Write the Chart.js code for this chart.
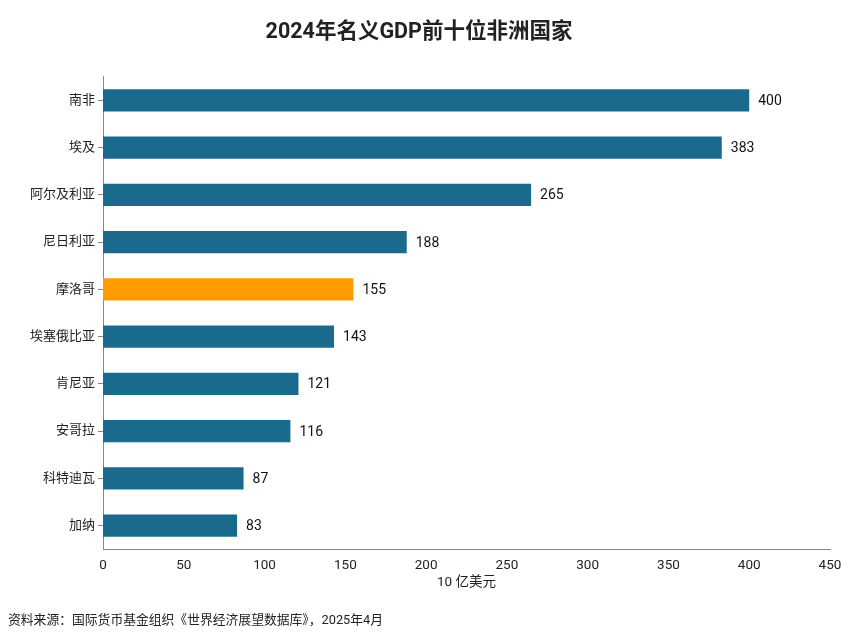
<!DOCTYPE html>
<html>
<head>
<meta charset="utf-8">
<script src="https://cdn.jsdelivr.net/npm/chart.js@4"></script>
<style>
  body { margin: 0; background: #fff; }
  #wrap { width: 867px; height: 644px; }
</style>
</head>
<body>
<div id="wrap"><canvas id="gdpChart"></canvas></div>
<script>
const countries = ['南非', '埃及', '阿尔及利亚', '尼日利亚', '摩洛哥', '埃塞俄比亚', '肯尼亚', '安哥拉', '科特迪瓦', '加纳'];
const gdpValues = [400, 383, 265, 188, 155, 143, 121, 116, 87, 83];
const highlight = '摩洛哥';

const fontFamily = "Roboto, 'Noto Sans CJK SC', sans-serif";

let colors = [];
for (let i = 0; i < countries.length; i++) {
    colors.push(countries[i] === highlight ? '#ff9d00' : '#1a6a8e');
}

// numbers at the end of each bar
const valueLabels = {
    id: 'valueLabels',
    afterDatasetsDraw(chart) {
        const ctx = chart.ctx;
        const meta = chart.getDatasetMeta(0);
        ctx.save();
        ctx.font = '14px ' + fontFamily;
        ctx.fillStyle = '#111';
        ctx.textAlign = 'left';
        ctx.textBaseline = 'middle';
        meta.data.forEach((bar, i) => {
            ctx.fillText(String(gdpValues[i]), bar.x + 9, bar.y + 1);
        });
        ctx.restore();
    }
};

const data = {
    labels: countries,
    datasets: [{
        data: gdpValues,
        backgroundColor: colors,
        barPercentage: 0.47,
        categoryPercentage: 1
    }]
};

const config = {
    type: 'bar',
    data: data,
    plugins: [valueLabels],
    options: {
        indexAxis: 'y',
        responsive: true,
        maintainAspectRatio: false,
        animation: false,
        layout: { padding: { left: 8, right: 37, top: 0, bottom: 0 } },
        plugins: {
            legend: { display: false },
            tooltip: { enabled: false },
            title: {
                display: true,
                text: '2024年名义GDP前十位非洲国家',
                color: '#222',
                font: { family: fontFamily, size: 21.5, weight: 'bold' },
                padding: { top: 20, bottom: 31 }
            },
            subtitle: {
                display: true,
                position: 'bottom',
                align: 'start',
                text: '资料来源：国际货币基金组织《世界经济展望数据库》，2025年4月',
                color: '#222',
                font: { family: fontFamily, size: 12.8 },
                padding: { top: 22, bottom: 16 }
            }
        },
        scales: {
            x: {
                min: 0,
                max: 450,
                ticks: {
                    stepSize: 50,
                    color: '#222',
                    padding: 0,
                    font: { family: fontFamily, size: 13.5 }
                },
                grid: { display: false },
                border: { display: true, color: '#888' },
                title: {
                    display: true,
                    text: '10 亿美元',
                    color: '#222',
                    font: { family: fontFamily, size: 13.5 },
                    padding: { top: 1, bottom: 0 }
                }
            },
            y: {
                ticks: {
                    color: '#222',
                    padding: 3,
                    font: { family: fontFamily, size: 13 }
                },
                grid: { drawOnChartArea: false, drawTicks: true, tickLength: 5, offset: false, color: '#888' },
                border: { display: true, color: '#888' },
                afterFit(scale) { scale.width = 95; }
            }
        }
    }
};

const ctx = document.getElementById('gdpChart').getContext('2d');
new Chart(ctx, config);
</script>
</body>
</html>
